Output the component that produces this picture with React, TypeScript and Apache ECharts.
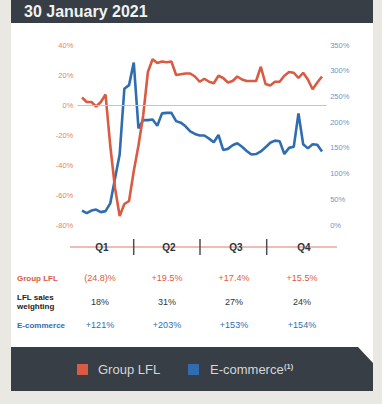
import React, { useEffect, useRef } from "react";
import * as echarts from "echarts";

const title = "30 January 2021";
const weeks = Array.from({ length: 52 }, (_, i) => i);
const groupLFL = [
  5, 2, 2, -1, 2, 7, -27, -55, -74, -66, -64, -44, -27, -7, 22, 30.5, 28, 29, 28.5, 29,
  20, 20.5, 21, 21, 19, 15.5, 17.5, 15.5, 14.5, 19.5, 18, 15, 16, 19, 17, 16, 16, 16, 25.5, 14,
  13, 15.5, 15.5, 19.5, 22, 21.5, 18, 21.5, 17, 10.5, 15, 19,
];
const ecommerce = [
  28, 23, 28, 30, 25, 27, 42, 90, 137, 265, 272, 316, 188, 204, 204, 205, 193, 217, 218, 218,
  202, 199, 192, 182, 177, 174, 174, 168, 161, 175, 146, 148, 155, 159, 152, 144, 137, 138, 143, 151,
  160, 164, 163, 138, 150, 152, 217, 157, 149, 157, 156, 143,
];
const quarters = ["Q1", "Q2", "Q3", "Q4"];
const rowGroupLFL = ["(24.8)%", "+19.5%", "+17.4%", "+15.5%"];
const rowWeighting = ["18%", "31%", "27%", "24%"];
const rowEcommerce = ["+121%", "+203%", "+153%", "+154%"];
const seriesNames = ["Group LFL", "E-commerce"];

const RED = "#d95b43";
const BLUE = "#2f6db0";
const DARK = "#373e45";

export default function App() {
  const ref = useRef<HTMLDivElement>(null);
  useEffect(() => {
    if (!ref.current) return;
    const chart = echarts.init(ref.current, null, { renderer: "svg" });
    const colX = [100, 167, 234, 302];
    const sepX = [133.7, 200, 266.7];
    const font = (size: number, bold = false) =>
      `${bold ? "bold " : ""}${size}px Arial, "Liberation Sans", sans-serif`;
    const graphics: any[] = [
      { type: "rect", z: -10, shape: { x: 11, y: 0, width: 362, height: 23 }, style: { fill: DARK } },
      { type: "rect", z: -10, shape: { x: 11, y: 23, width: 362, height: 340 }, style: { fill: "#ffffff" } },
      {
        type: "polygon", z: -9,
        shape: { points: [[11, 347], [358, 347], [373, 363], [373, 391], [11, 391]] },
        style: { fill: DARK },
      },
      {
        type: "text", x: 24, y: 11.5,
        style: { text: title, fill: "#f2f2f2", font: font(16, true), verticalAlign: "middle", align: "left" },
      },
      { type: "line", shape: { x1: 70, y1: 247, x2: 337, y2: 247 }, style: { stroke: "#e27a66", lineWidth: 1 } },
      ...sepX.map((x) => ({
        type: "line", shape: { x1: x, y1: 239, x2: x, y2: 255 }, style: { stroke: "#4a4f55", lineWidth: 1.5 },
      })),
      ...quarters.map((q, i) => ({
        type: "text", x: colX[i] + 2, y: 247,
        style: { text: q, fill: "#2e3338", font: `600 10px Arial, "Liberation Sans", sans-serif`, align: "center", verticalAlign: "middle" },
      })),
      { type: "text", x: 17, y: 278, style: { text: "Group LFL", fill: RED, font: font(8, true), verticalAlign: "middle" } },
      { type: "text", x: 17, y: 297, style: { text: "LFL sales", fill: "#222", font: font(8, true), verticalAlign: "middle" } },
      { type: "text", x: 17, y: 306.5, style: { text: "weighting", fill: "#222", font: font(8, true), verticalAlign: "middle" } },
      { type: "text", x: 17, y: 325, style: { text: "E-commerce", fill: BLUE, font: font(8, true), verticalAlign: "middle" } },
      ...rowGroupLFL.map((t, i) => ({
        type: "text", x: colX[i], y: 278,
        style: { text: t, fill: RED, font: font(9), align: "center", verticalAlign: "middle" },
      })),
      ...rowWeighting.map((t, i) => ({
        type: "text", x: colX[i], y: 301.5,
        style: { text: t, fill: "#333", font: font(9), align: "center", verticalAlign: "middle" },
      })),
      ...rowEcommerce.map((t, i) => ({
        type: "text", x: colX[i], y: 325,
        style: { text: t, fill: BLUE, font: font(9), align: "center", verticalAlign: "middle" },
      })),
      { type: "rect", shape: { x: 77, y: 364, width: 11, height: 11 }, style: { fill: RED } },
      {
        type: "text", x: 98, y: 369.5,
        style: { text: seriesNames[0], fill: "#d6d6d6", font: font(13), verticalAlign: "middle" },
      },
      { type: "rect", shape: { x: 188, y: 364, width: 11, height: 11 }, style: { fill: BLUE } },
      {
        type: "text", x: 210, y: 369.5,
        style: { text: seriesNames[1], fill: "#d6d6d6", font: font(13), verticalAlign: "middle" },
      },
      {
        type: "text", x: 284, y: 366,
        style: { text: "(1)", fill: "#d6d6d6", font: font(7.5, true), verticalAlign: "middle" },
      },
    ];
    chart.setOption({
      animation: false,
      backgroundColor: "#e9e8e3",
      grid: { left: 77.3, right: 55.3, top: 45, bottom: 179 },
      xAxis: {
        type: "value", min: -1, max: 52, show: false,
      },
      yAxis: [
        {
          type: "value", min: -80, max: 40, interval: 20,
          axisLine: { show: false }, axisTick: { show: false }, splitLine: { show: false },
          axisLabel: { formatter: "{value}%", color: "#e47f6c", fontSize: 7.5, margin: 4, fontFamily: "Arial" },
        },
        {
          type: "value", min: 0, max: 350, interval: 50, position: "right",
          axisLine: { show: false }, axisTick: { show: false }, splitLine: { show: false },
          axisLabel: { formatter: "{value}%", color: "#6a97c8", fontSize: 7.5, margin: 3.5, fontFamily: "Arial" },
        },
      ],
      series: [
        {
          name: seriesNames[0], type: "line", yAxisIndex: 0, showSymbol: false,
          data: weeks.map((w, i) => [w, groupLFL[i]]),
          lineStyle: { color: RED, width: 2.6 }, itemStyle: { color: RED },
          markLine: {
            silent: true, symbol: "none", label: { show: false },
            lineStyle: { color: "#f2b4a7", width: 1, type: "solid", opacity: 1 },
            emphasis: { disabled: true },
            data: [{ yAxis: 0 }],
          },
          z: 3,
        },
        {
          name: seriesNames[1], type: "line", yAxisIndex: 1, showSymbol: false,
          data: weeks.map((w, i) => [w, ecommerce[i]]),
          lineStyle: { color: BLUE, width: 2.6 }, itemStyle: { color: BLUE },
          z: 2,
        },
      ],
      graphic: graphics,
    });
    return () => chart.dispose();
  }, []);
  return (
    <div
      ref={ref}
      style={{ position: "fixed", left: 0, top: 0, width: 382, height: 404 }}
    />
  );
}
